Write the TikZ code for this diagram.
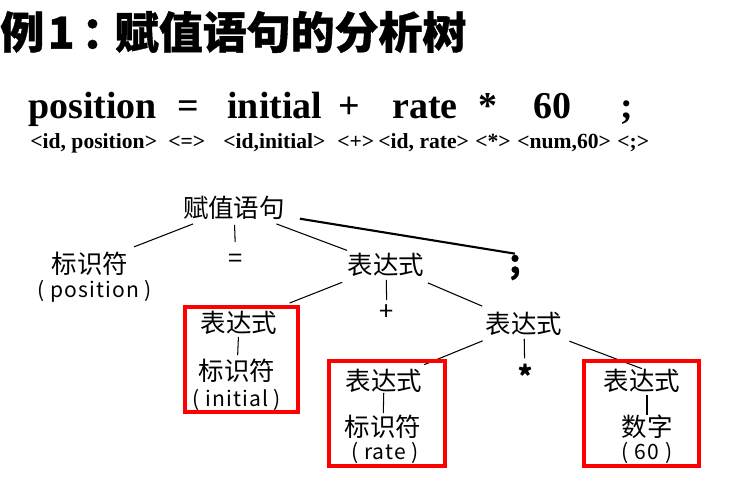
\documentclass[tikz,border=0pt]{standalone}
\usepackage{fontspec}
\setmainfont{Liberation Serif}
\newfontfamily\cjk{Noto Sans CJK SC}[BoldFeatures={FakeBold=0.8}]
\newfontfamily\cjklat{Noto Sans CJK SC}[LetterSpace=5]

\begin{document}
\begin{tikzpicture}[x=0.02cm,y=-0.02cm,
  tok/.style={anchor=base west,inner sep=0pt,font=\bfseries\fontsize{21.6}{24}\selectfont},
  lex/.style={anchor=base west,inner sep=0pt,font=\bfseries\fontsize{12.3}{14}\selectfont},
  sym/.style={font=\cjk\fontsize{14.5}{17}\selectfont,text height=12pt,text depth=1pt,inner sep=2pt},
  val/.style={font=\cjklat\fontsize{12}{14}\selectfont},
  op/.style={anchor=base,font=\cjk\fontsize{14.5}{17}\selectfont,inner sep=0pt},
  edge/.style={line width=0.6pt},
  redbox/.style={red,line width=2.2pt}]
\useasboundingbox (0,0) rectangle (748,488);

% title
\node[anchor=west,inner sep=0pt,font=\cjk\bfseries\fontsize{25}{28}\selectfont] (title) at (0,32) {例\kern2pt 1\kern4pt ：\kern-6pt 赋值语句的分析树};

% source line and tokens
\node[tok] (s1) at (28,118) {position};
\node[tok] (s2) at (177,118) {=};
\node[tok] (s3) at (227,118) {initial};
\node[tok] (s4) at (338,118) {+};
\node[tok] (s5) at (392,118) {rate};
\node[tok] (s6) at (478,118) {*};
\node[tok] (s7) at (533,118) {60};
\node[tok] (s8) at (620,118) {;};
\node[lex] (k1) at (30,148) {<id, position>};
\node[lex] (k2) at (168,148) {<=>};
\node[lex] (k3) at (223,148) {<id,initial>};
\node[lex] (k4) at (337,148) {<+>};
\node[lex] (k5) at (378,148) {<id, rate>};
\node[lex] (k6) at (475,148) {<*>};
\node[lex] (k7) at (517,148) {<num,60>};
\node[lex] (k8) at (617,148) {<;>};

% tree
\node[sym] (root) at (234,208) {赋值语句};
\node[sym] (id1) at (90,264) {标识符};
\node[val] (v1) at (95,291) {( position )};
\node[op] (eq) at (236,267) {=};
\node[sym] (e2) at (386,265) {表达式};
\node[anchor=base,inner sep=0pt,font=\cjk\bfseries\fontsize{18}{20}\selectfont] (semi) at (515,273) {;};
\node[op] (plus) at (387,320) {+};
\node[sym] (e3) at (524,324) {表达式};
\node[op,font=\cjk\bfseries\fontsize{15.5}{17}\selectfont] (star) at (525,386) {*};

\node[sym] (b1e) at (239,323) {表达式};
\node[sym] (b1i) at (237,371) {标识符};
\node[val] (v2) at (237,400) {( initial )};

\node[sym] (b2e) at (384,381) {表达式};
\node[sym] (b2i) at (383,427) {标识符};
\node[val] (v3) at (385,453) {( rate )};

\node[sym] (b3e) at (642,381) {表达式};
\node[sym] (b3n) at (647,427) {数字};
\node[val] (v4) at (647,453) {( 60 )};

\draw[edge,shorten <=25pt,shorten >=27pt] (root.center) -- (id1.center);
\draw[edge,shorten <=9.6pt,shorten >=14.2pt] (root.center) -- (eq.base);
\draw[edge,shorten <=25.8pt,shorten >=23.7pt] (root.center) -- (e2.center);
\draw[line width=1.2pt,shorten <=38pt] (root.center) -- ([yshift=11pt]semi.base);
\draw[edge,shorten <=26.8pt,shorten >=31pt] (e2.center) -- (b1e.center);
\draw[edge,shorten <=8.5pt,shorten >=11.3pt] (e2.center) -- (plus.base);
\draw[edge,shorten <=25.9pt,shorten >=25.9pt] (e2.center) -- (e3.center);
\draw[edge,shorten <=25.4pt,shorten >=24.6pt] (e3.center) -- (b2e.center);
\draw[edge,shorten <=8.5pt,shorten >=15.8pt] (e3.center) -- (star.base);
\draw[edge,shorten <=27.6pt] (e3.center) -- ([yshift=7pt]b3e.center);
\draw[edge,shorten <=7.9pt,shorten >=9.1pt] (b1e.center) -- (b1i.center);
\draw[edge,shorten <=6.8pt,shorten >=7.9pt] (b2e.center) -- (b2i.center);
\draw[edge,shorten <=6.8pt,shorten >=7.9pt] (b3n.center) -- (b3n.center |- b3e.center);

\draw[redbox] (185,307) rectangle (298,412);
\draw[redbox] (329,361) rectangle (445,466);
\draw[redbox] (584,361) rectangle (699,466);
\end{tikzpicture}
\end{document}
